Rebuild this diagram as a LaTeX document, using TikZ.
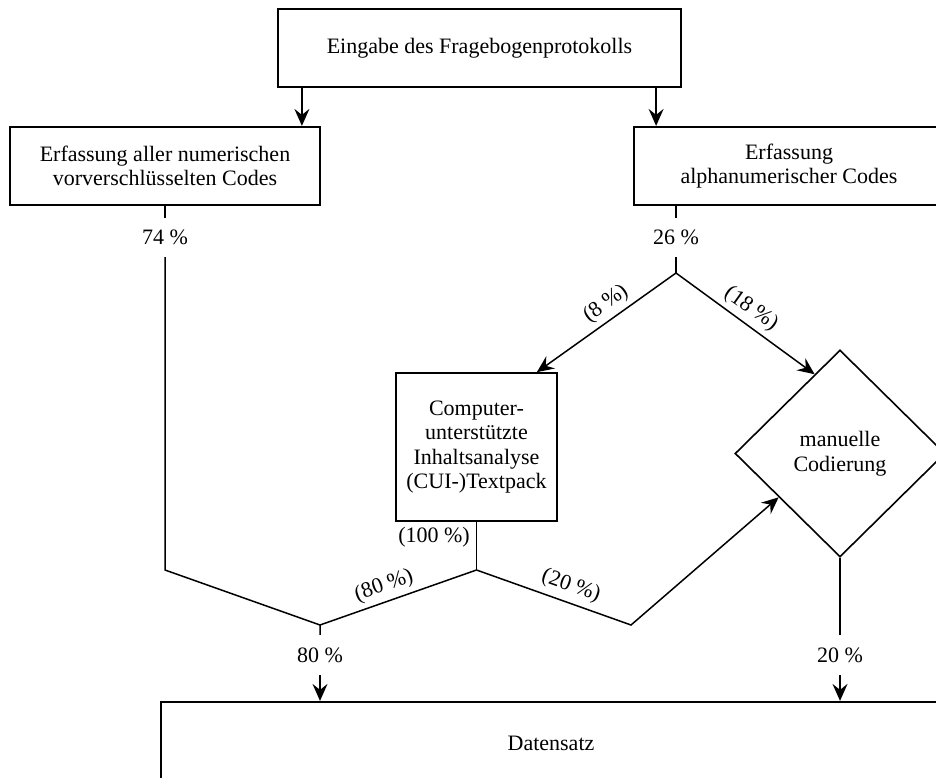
\documentclass[tikz,border=0pt]{standalone}
\usepackage{fontspec}
\setmainfont{Liberation Serif}
\usetikzlibrary{shapes.geometric,arrows.meta,calc}

\begin{document}
\begin{tikzpicture}[x=1pt,y=-1pt,
  font=\fontsize{22}{24.5}\selectfont,
  box/.style={draw,line width=2.2pt,rectangle,inner sep=0pt,align=center},
  thinbox/.style={box,line width=1.6pt},
  flow/.style={line width=1.5pt},
  arr/.style={flow,-{Stealth[length=17pt,width=15pt,inset=6pt]}},
  pct/.style={inner sep=0pt,minimum height=39pt},
  tag/.style={inner sep=0pt}
]
\path[use as bounding box] (0,0) rectangle (936,778);
\clip (0,0) rectangle (936,778);

% boxes
\node[box,minimum width=403pt,minimum height=78pt] (top) at (479.5,48) {Eingabe des Fragebogenprotokolls};
\node[box,minimum width=310pt,minimum height=78pt] (num) at (165,166) {Erfassung aller numerischen\\vorverschlüsselten Codes};
\node[box,minimum width=310pt,minimum height=78pt] (alpha) at (789,166) {Erfassung\\alphanumerischer Codes};
\node[thinbox,minimum width=161pt,minimum height=148pt] (cui) at (476.5,447) {Computer-\\unterstützte\\Inhaltsanalyse\\(CUI-)Textpack};
\node[draw,diamond,line width=1.6pt,minimum width=210pt,minimum height=207pt,inner sep=0pt,align=center] (man) at (840,453.5) {manuelle\\Codierung};
\node[box,minimum width=780pt,minimum height=82pt] (data) at (551,743) {Datensatz};

% percentages interrupting the lines
\node[pct] (p74) at (165,237.5) {74 \%};
\node[pct] (p26) at (676,237.5) {26 \%};
\node[pct,minimum height=40pt] (p80) at (320,655) {80 \%};
\node[pct,minimum height=40pt] (p20) at (840,655) {20 \%};

% bend points
\coordinate (fork) at (676,273);
\coordinate (bendL) at (165,570);
\coordinate (merge) at (320,625);
\coordinate (split) at (476.5,570);
\coordinate (bendR) at (631,625);

% connectors
\draw[arr] ([xshift=25pt]top.south west) -- ([xshift=25pt]top.south west |- num.north);
\draw[arr] ([xshift=-26pt]top.south east) -- ([xshift=-26pt]top.south east |- alpha.north);

\draw[flow] (num.south) -- (p74.north);
\draw[flow] (p74.south) -- (bendL) -- (merge) -- (p80.north);
\draw[arr] (p80.south) -- (p80.south |- data.north);

\draw[flow] (p26.north |- alpha.south) -- (p26.north);
\draw[flow] (p26.south) -- (fork);
\draw[arr] (fork) -- ([xshift=-21pt]cui.north east);
\draw[arr] (fork) -- ($(man.west)!0.76!(man.north)$);

\draw[flow] (cui.south) -- (split);
\draw[flow] (split) -- (merge);
\draw[arr] (split) -- (bendR) -- ($(man.west)!0.42!(man.south)$);

\draw[flow] (man.south) -- (p20.north);
\draw[arr] (p20.south) -- (p20.south |- data.north);

% branch labels
\node[tag,rotate=35.7] (t8) at (606,304) {(8 \%)};
\node[tag,rotate=-35.5] (t18) at (751,309) {(18 \%)};
\node[tag] (t100) at (434,537) {(100 \%)};
\node[tag,rotate=19.5] (t80) at (384,586) {(80 \%)};
\node[tag,rotate=-19.5] (t20) at (571,586) {(20 \%)};
\end{tikzpicture}
\end{document}
